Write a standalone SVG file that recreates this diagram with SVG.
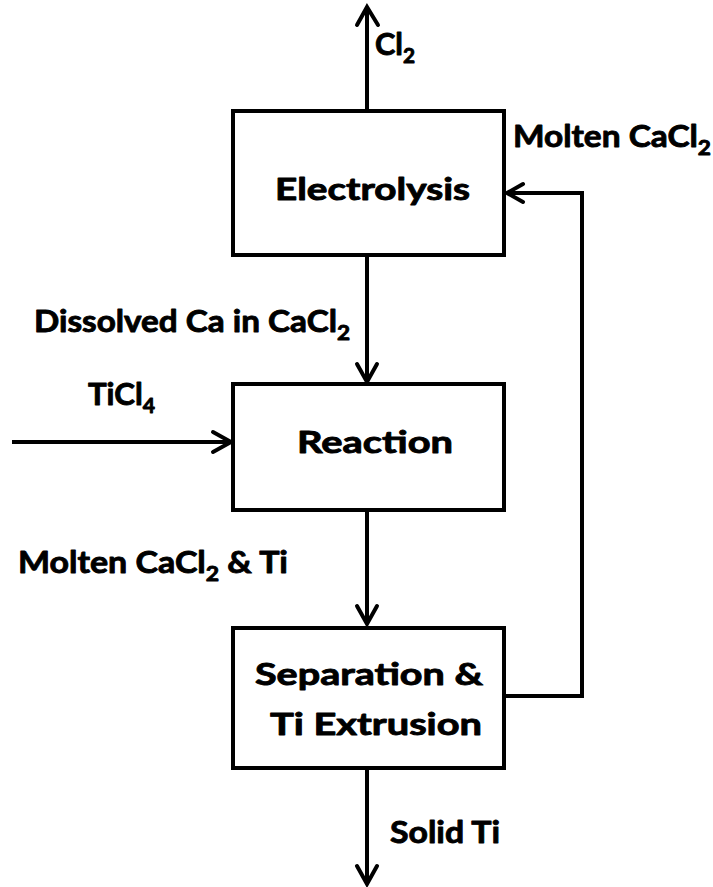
<svg xmlns="http://www.w3.org/2000/svg" width="713" height="887" viewBox="0 0 713 887">
<style>
.box{fill:#fff;stroke:#000;stroke-width:4}
.ln{fill:none;stroke:#000;stroke-width:4}
.hd{fill:none;stroke:#000;stroke-width:4;stroke-linecap:round;stroke-linejoin:miter}
text{font-family:Lato,"Open Sans","Liberation Sans",sans-serif;font-weight:bold;font-size:31px;fill:#000;stroke:#000;stroke-width:0.9;stroke-linejoin:round}
.sub{font-size:21px}
</style>
<rect width="713" height="887" fill="#fff"/>
<g id="connectors">
  <line class="ln" x1="367" y1="111" x2="367" y2="8"/>
  <polyline class="hd" points="357,25 367,7 378,25"/>
  <line class="ln" x1="367" y1="255" x2="367" y2="380"/>
  <polyline class="hd" points="357,364 367,382 377,364"/>
  <line class="ln" x1="12" y1="442" x2="231" y2="442"/>
  <polyline class="hd" points="213,432 231,442 213,452"/>
  <line class="ln" x1="367" y1="510" x2="367" y2="624"/>
  <polyline class="hd" points="357,606 367,624 377,606"/>
  <polyline class="ln" points="504,696 582,696 582,193 508,193"/>
  <polyline class="hd" points="523,184 507,193 523,202"/>
  <line class="ln" x1="367" y1="768" x2="367" y2="884"/>
  <polyline class="hd" points="357,866 367,884 377,866"/>
</g>
<g id="electrolysis">
  <rect class="box" x="233" y="111" width="271" height="144"/>
  <text x="275" y="200" textLength="195" lengthAdjust="spacingAndGlyphs">Electrolysis</text>
</g>
<g id="reaction">
  <rect class="box" x="233" y="384" width="271" height="126"/>
  <text x="297" y="453" textLength="156" lengthAdjust="spacingAndGlyphs">Reaction</text>
</g>
<g id="separation">
  <rect class="box" x="233" y="628" width="271" height="140"/>
  <text x="255" y="685" textLength="228" lengthAdjust="spacingAndGlyphs">Separation &amp;</text>
  <text x="270" y="735" textLength="212" lengthAdjust="spacingAndGlyphs">Ti Extrusion</text>
</g>
<g id="labels">
  <text x="375" y="55" textLength="40" lengthAdjust="spacingAndGlyphs">Cl<tspan class="sub" dy="8">2</tspan></text>
  <text x="513" y="147" textLength="198" lengthAdjust="spacingAndGlyphs">Molten CaCl<tspan class="sub" dy="8">2</tspan></text>
  <text x="34" y="332" textLength="316" lengthAdjust="spacingAndGlyphs">Dissolved Ca in CaCl<tspan class="sub" dy="8">2</tspan></text>
  <text x="88" y="405" textLength="67" lengthAdjust="spacingAndGlyphs">TiCl<tspan class="sub" dy="8">4</tspan></text>
  <text x="18" y="573" textLength="270" lengthAdjust="spacingAndGlyphs">Molten CaCl<tspan class="sub" dy="8">2</tspan><tspan dy="-8"> &amp; Ti</tspan></text>
  <text x="390" y="843" textLength="110" lengthAdjust="spacingAndGlyphs">Solid Ti</text>
</g>
</svg>
